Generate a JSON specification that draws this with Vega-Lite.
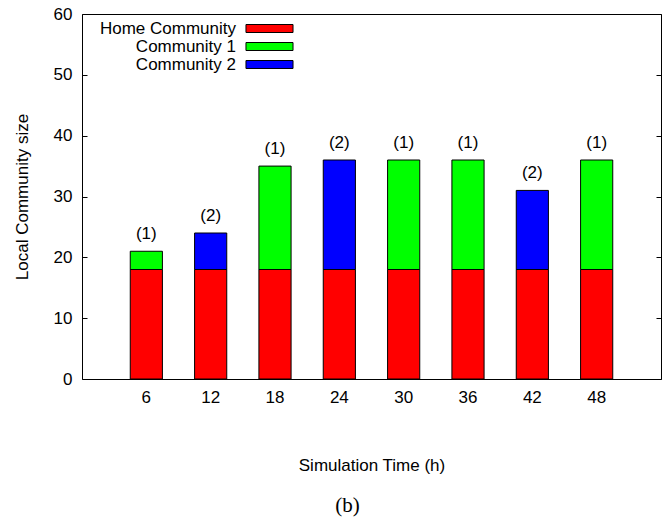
{
  "$schema": "https://vega.github.io/schema/vega-lite/v6.json",
  "width": 579,
  "height": 365,
  "autosize": {"type": "none"},
  "padding": {"left": 82, "top": 14, "right": 8, "bottom": 142},
  "background": "white",
  "config": {
    "view": {"stroke": "black", "strokeWidth": 1},
    "font": "Liberation Sans",
    "axis": {
      "grid": false,
      "domain": false,
      "labelFont": "Liberation Sans",
      "labelFontSize": 17,
      "labelColor": "black",
      "titleFont": "Liberation Sans",
      "titleFontSize": 17,
      "titleFontWeight": "normal",
      "titleColor": "black",
      "tickColor": "black",
      "tickWidth": 1
    },
    "legend": {
      "orient": "none",
      "legendX": 0,
      "legendY": 6,
      "padding": 0,
      "rowPadding": 0,
      "labelFont": "Liberation Sans",
      "labelFontSize": 17,
      "labelColor": "black",
      "labelAlign": "right",
      "labelOffset": -42,
      "symbolOffset": 179,
      "symbolType": "M-2.94,-0.5H2.94V0.5H-2.94Z",
      "symbolSize": 256,
      "symbolStrokeColor": "black",
      "symbolStrokeWidth": 1,
      "symbolOpacity": 1
    }
  },
  "title": {
    "text": "(b)",
    "orient": "bottom",
    "font": "Liberation Serif",
    "fontSize": 21,
    "fontWeight": "normal",
    "color": "black",
    "anchor": "middle",
    "dx": -24,
    "offset": 22
  },
  "data": {
    "values": [
      {"time": 6, "community": "Home Community", "size": 18},
      {"time": 6, "community": "Community 1", "size": 3},
      {"time": 12, "community": "Home Community", "size": 18},
      {"time": 12, "community": "Community 2", "size": 6},
      {"time": 18, "community": "Home Community", "size": 18},
      {"time": 18, "community": "Community 1", "size": 17},
      {"time": 24, "community": "Home Community", "size": 18},
      {"time": 24, "community": "Community 2", "size": 18},
      {"time": 30, "community": "Home Community", "size": 18},
      {"time": 30, "community": "Community 1", "size": 18},
      {"time": 36, "community": "Home Community", "size": 18},
      {"time": 36, "community": "Community 1", "size": 18},
      {"time": 42, "community": "Home Community", "size": 18},
      {"time": 42, "community": "Community 2", "size": 13},
      {"time": 48, "community": "Home Community", "size": 18},
      {"time": 48, "community": "Community 1", "size": 18}
    ]
  },
  "layer": [
    {
      "mark": {"type": "bar", "stroke": "black", "strokeWidth": 1},
      "encoding": {
        "x": {
          "field": "time",
          "type": "ordinal",
          "scale": {"paddingInner": 0.5, "paddingOuter": 0.75},
          "axis": {
            "title": "Simulation Time (h)",
            "labelAngle": 0,
            "ticks": false,
            "labelPadding": 10,
            "titlePadding": 52
          }
        },
        "y": {
          "field": "size",
          "type": "quantitative",
          "stack": "zero",
          "scale": {"domain": [0, 60], "nice": false},
          "axis": {
            "title": "Local Community size",
            "values": [0, 10, 20, 30, 40, 50, 60],
            "tickSize": -5,
            "labelPadding": 15,
            "titlePadding": 22
          }
        },
        "color": {
          "field": "community",
          "type": "nominal",
          "scale": {
            "domain": ["Home Community", "Community 1", "Community 2"],
            "range": ["#ff0000", "#00ff00", "#0000ff"]
          },
          "legend": {"title": null}
        },
        "order": {"field": "community", "sort": "descending"}
      }
    },
    {
      "transform": [
        {"joinaggregate": [{"op": "sum", "field": "size", "as": "total"}], "groupby": ["time"]},
        {"filter": "datum.community !== 'Home Community'"},
        {"calculate": "'(' + replace(datum.community, 'Community ', '') + ')'", "as": "tag"}
      ],
      "mark": {"type": "text", "baseline": "middle", "dy": -17, "fontSize": 17, "font": "Liberation Sans", "color": "black"},
      "encoding": {
        "x": {"field": "time", "type": "ordinal"},
        "y": {
          "field": "total",
          "type": "quantitative",
          "axis": {
            "orient": "right",
            "title": null,
            "labels": false,
            "values": [0, 10, 20, 30, 40, 50, 60],
            "tickSize": -5
          }
        },
        "text": {"field": "tag"}
      }
    }
  ],
  "resolve": {"axis": {"y": "independent"}}
}
